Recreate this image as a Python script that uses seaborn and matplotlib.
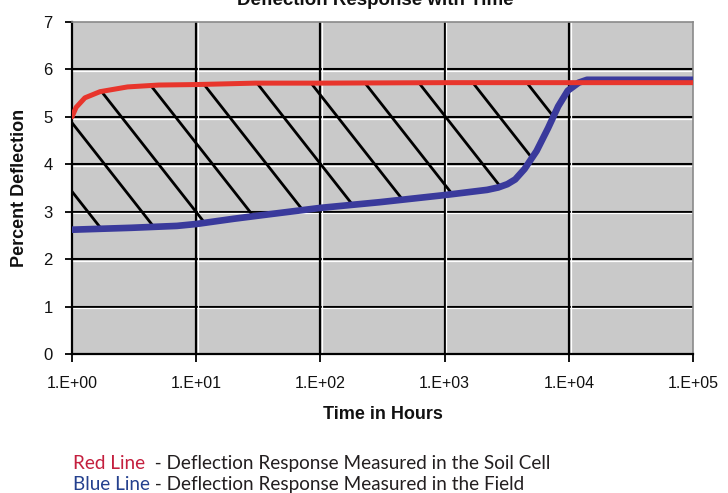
import numpy as np
import pandas as pd
import matplotlib
matplotlib.use("Agg")
import matplotlib.pyplot as plt
import matplotlib.transforms as mtransforms
from matplotlib.path import Path
import seaborn as sns

# ---------------- data ----------------
red_hours = [1, 1.08, 1.27, 1.68, 2.8, 5, 10, 30, 100, 1000, 10000, 100000]
red_defl = [5.00, 5.20, 5.40, 5.53, 5.63, 5.67, 5.68, 5.71, 5.71, 5.72, 5.72, 5.72]

blue_hours = [1, 3, 7, 10, 20, 40, 100, 300, 1000, 2200, 2700, 3200, 3700,
              4400, 5500, 6800, 8200, 9800, 12000, 14000, 100000]
blue_defl = [2.62, 2.66, 2.70, 2.74, 2.85, 2.95, 3.08, 3.20, 3.35, 3.46, 3.51,
             3.58, 3.68, 3.90, 4.28, 4.76, 5.22, 5.55, 5.72, 5.78, 5.78]

xticks = [1, 10, 100, 1000, 10000, 100000]
xtick_labels = ["1.E+00", "1.E+01", "1.E+02", "1.E+03", "1.E+04", "1.E+05"]
yticks = [0, 1, 2, 3, 4, 5, 6, 7]

title = "Deflection Response with Time"
xlabel = "Time in Hours"
ylabel = "Percent Deflection"
cap_red = "Red Line"
cap_red_rest = "  - Deflection Response Measured in the Soil Cell"
cap_blue = "Blue Line"
cap_blue_rest = " - Deflection Response Measured in the Field"

red_df = pd.DataFrame({"hours": red_hours, "defl": red_defl})
blue_df = pd.DataFrame({"hours": blue_hours, "defl": blue_defl})

# ---------------- style ----------------
sns.set_style("ticks")
plt.rcParams["font.family"] = ["Liberation Sans", "DejaVu Sans"]

fig = plt.figure(figsize=(7.28, 4.93), dpi=100)
ax = fig.add_axes([0.0989, 0.282, 0.8531, 0.6735])
ax.set_facecolor("#c9c9c9")
ax.set_xscale("log")
ax.set_xlim(1, 100000)
ax.set_ylim(0, 7)

# grid: black lines with a thin white highlight
for yv in yticks[1:-1]:
    ax.axhline(yv, color="black", lw=1.5, zorder=1)
    tr = mtransforms.offset_copy(ax.get_yaxis_transform(), fig=fig, x=0, y=-1.8, units="dots")
    ax.plot([0, 1], [yv, yv], transform=tr, color="white", lw=0.9, zorder=1)
for xv in xticks[1:-1]:
    ax.axvline(xv, color="black", lw=1.6, zorder=1)
    tr = mtransforms.offset_copy(ax.get_xaxis_transform(), fig=fig, x=1.8, y=0, units="dots")
    ax.plot([xv, xv], [0, 1], transform=tr, color="white", lw=0.9, zorder=1)

# hatch region between curves (clip polygon built from the two series)
rx = [x for x in red_hours if x <= 10000]
ry = red_defl[:len(rx)]
bx = [x for x in blue_hours if x <= 10000]
by = blue_defl[:len(bx)]
poly_x = rx + bx[::-1]
poly_y = ry + by[::-1]
verts = list(zip(poly_x, poly_y)) + [(poly_x[0], poly_y[0])]
clip_path = Path(verts, closed=True)

spacing = 0.087
run = 0.42
for k in range(-4, 12):
    u = -0.0405 + k * spacing
    ln, = ax.plot([u, u + run], [1, 0], transform=ax.transAxes,
                  color="black", lw=2.0, zorder=2, solid_capstyle="butt")
    ln.set_clip_path(clip_path, ax.transData)

# series
sns.lineplot(data=blue_df, x="hours", y="defl", ax=ax, color="#3a3a9c",
             lw=4.8, zorder=4, estimator=None, sort=False)
sns.lineplot(data=red_df, x="hours", y="defl", ax=ax, color="#e8352c",
             lw=3.6, zorder=5, estimator=None, sort=False)

# axes, ticks
ax.set_xticks(xticks, labels=xtick_labels)
ax.xaxis.set_minor_locator(matplotlib.ticker.NullLocator())
ax.set_yticks(yticks)
ax.tick_params(axis="x", direction="out", length=6, width=1.3, color="black",
               pad=10, labelsize=11.5, labelcolor="#111111")
ax.tick_params(axis="y", direction="out", length=5, width=1.3, color="black",
               pad=9, labelsize=12, labelcolor="#111111")
for s in ["left", "bottom"]:
    ax.spines[s].set_color("black")
    ax.spines[s].set_linewidth(1.6)
for s in ["top", "right"]:
    ax.spines[s].set_color("#8a8a8a")
    ax.spines[s].set_linewidth(1.2)
    ax.spines[s].set_visible(True)

ax.set_xlabel(xlabel, fontsize=13, fontweight="bold", labelpad=11, color="#111111")
ax.set_ylabel(ylabel, fontsize=13, fontweight="bold", labelpad=11, color="#111111")

fig.text(0.515, 0.989, title, ha="center", va="baseline", fontsize=13.5,
         fontweight="bold", color="#111111")

# caption
cap_font = ["Lato", "DejaVu Sans"]
cap_size = 13.6
t1 = fig.text(0.1, 0.049, cap_red, color="#c41f3e", fontsize=cap_size, family=cap_font,
              va="baseline")
t2 = fig.text(0.1, 0.007, cap_blue, color="#24408e", fontsize=cap_size, family=cap_font,
              va="baseline")
fig.canvas.draw()
r = fig.canvas.get_renderer()
inv = fig.transFigure.inverted()
e1 = t1.get_window_extent(r)
e2 = t2.get_window_extent(r)
x1 = inv.transform((e1.x1, 0))[0]
x2 = inv.transform((e2.x1, 0))[0]
fig.text(x1, 0.049, cap_red_rest, color="#231f20", fontsize=cap_size, family=cap_font, va="baseline")
fig.text(x2, 0.007, cap_blue_rest, color="#231f20", fontsize=cap_size, family=cap_font, va="baseline")

fig.savefig("out.png", dpi=100)
